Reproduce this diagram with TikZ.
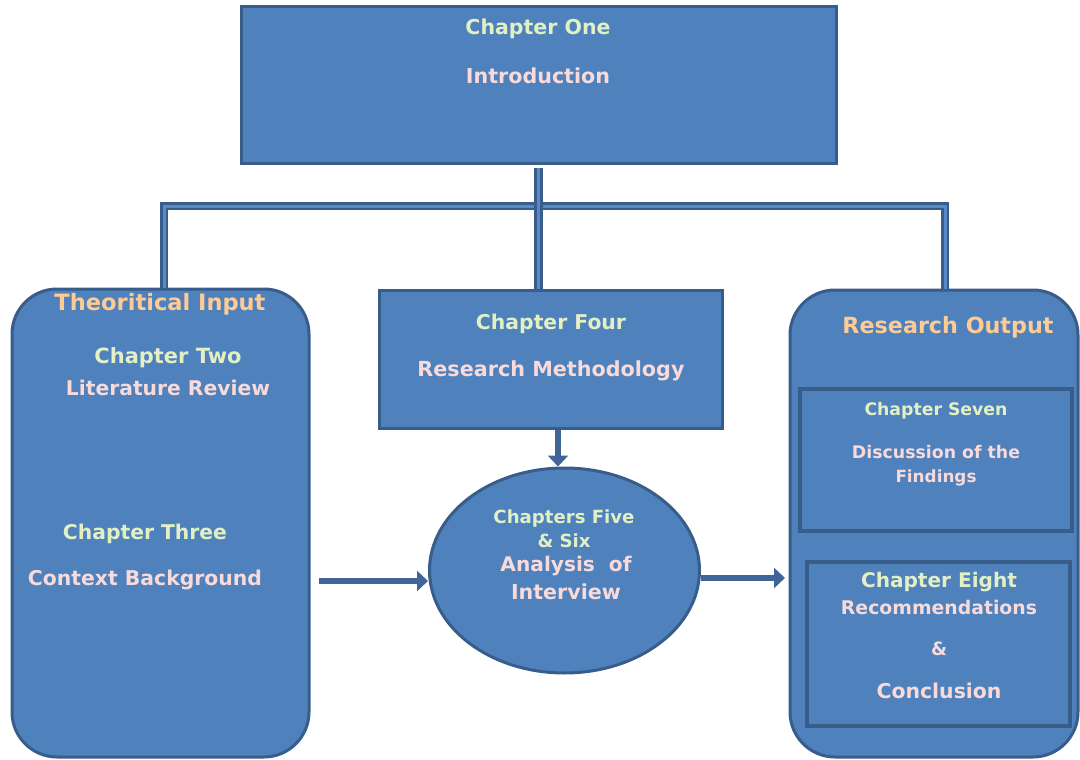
\documentclass[tikz,border=0pt]{standalone}
\usepackage{fontspec}
\usepackage{graphicx}
\setmainfont{DejaVu Sans}
\usetikzlibrary{shapes.geometric,arrows.meta}
\definecolor{boxfill}{HTML}{4F81BD}
\definecolor{boxline}{HTML}{385D8A}
\definecolor{pipein}{HTML}{5A8AC6}
\definecolor{arrcol}{HTML}{3F6697}
\definecolor{txtgreen}{HTML}{E2F0C4}
\definecolor{txtpink}{HTML}{F8DADA}
\definecolor{txtorange}{HTML}{FFCB94}
\newcommand\fw[2]{\resizebox{#1pt}{!}{\bfseries #2}}
\tikzset{
  blockbox/.style={draw=boxline, fill=boxfill, line width=3pt, rectangle, inner sep=0pt},
  innerbox/.style={draw=boxline, fill=boxfill, line width=4pt, rectangle, inner sep=0pt},
  roundbox/.style={blockbox, rounded corners=45pt},
  pipe/.style={draw=boxline, line width=2.6pt, double=pipein, double distance=3pt},
  arr/.style={draw=arrcol, line width=6pt, -{Triangle[width=20pt,length=11pt]}},
  chap/.style={text=txtgreen, inner sep=0pt},
  ttl/.style={text=txtpink, inner sep=0pt},
  hdr/.style={text=txtorange, inner sep=0pt},
}
\begin{document}
\begin{tikzpicture}[x=1pt,y=-1pt]
\useasboundingbox (0,0) rectangle (1080,760);
% shapes
\node[blockbox, minimum width=595pt, minimum height=156pt] (ch1) at (538.5,85) {};
\node[roundbox, minimum width=297pt, minimum height=468pt] (ti) at (160.5,523) {};
\node[blockbox, minimum width=343pt, minimum height=138pt] (ch4) at (550.5,359) {};
\node[roundbox, minimum width=288pt, minimum height=467pt] (ro) at (934,523.5) {};
\node[innerbox, minimum width=272pt, minimum height=142pt] (ch7) at (936,460) {};
\node[innerbox, minimum width=263pt, minimum height=164pt] (ch8) at (938.5,644) {};
\node[ellipse, draw=boxline, fill=boxfill, line width=3pt, inner sep=0pt,
      minimum width=270pt, minimum height=205pt] (ell) at (564.5,570.5) {};
% connectors
\coordinate (jl) at (164,206);
\coordinate (jr) at (945,206);
\coordinate (da) at (558,0);
\coordinate (la) at (319,581);
\coordinate (ra) at (785,578);
\draw[pipe] (ti.north -| jl) -- (jl) -- (jr) -- (ro.north -| jr);
\draw[pipe] ([yshift=-3pt]ch1.south) -- (ch1.south |- ch4.north);
\draw[arr] (ch4.south -| da) -- (da |- ell.north);
\draw[arr] (la) -- (la -| ell.west);
\draw[arr] (ell.east |- ra) -- (ra);
% texts
\node[chap] (t1a) at (538,29) {\fw{145}{Chapter One}};
\node[ttl]  (t1b) at (538,76) {\fw{144}{Introduction}};
\node[hdr]  (tti) at (160,304) {\fw{211}{Theoritical Input}};
\node[chap] (t2a) at (168,358) {\fw{147}{Chapter Two}};
\node[ttl]  (t2b) at (168,388) {\fw{204}{Literature Review}};
\node[chap] (t3a) at (145,534) {\fw{164}{Chapter Three}};
\node[ttl]  (t3b) at (145,580) {\fw{234}{Context Background}};
\node[chap] (t4a) at (551,324) {\fw{150}{Chapter Four}};
\node[ttl]  (t4b) at (551,371) {\fw{267}{Research Methodology}};
\node[chap] (t5a) at (564,518) {\fw{141}{Chapters Five}};
\node[chap] (t5b) at (564,541) {\fw{53}{\& Six}};
\node[ttl]  (t5c) at (566,566) {\fw{131}{Analysis\ \ of}};
\node[ttl]  (t5d) at (566,592) {\fw{110}{Interview}};
\node[hdr]  (tro) at (948,327) {\fw{211}{Research Output}};
\node[chap] (t7a) at (936,411) {\fw{143}{Chapter Seven}};
\node[ttl]  (t7b) at (936,452) {\fw{168}{Discussion of the}};
\node[ttl]  (t7c) at (936,478) {\fw{81}{Findings}};
\node[chap] (t8a) at (939,582) {\fw{156}{Chapter Eight}};
\node[ttl]  (t8b) at (939,607) {\fw{196}{Recommendations}};
\node[ttl]  (t8c) at (939,649) {\fw{16}{\&}};
\node[ttl]  (t8d) at (939,691) {\fw{125}{Conclusion}};
\end{tikzpicture}
\end{document}
